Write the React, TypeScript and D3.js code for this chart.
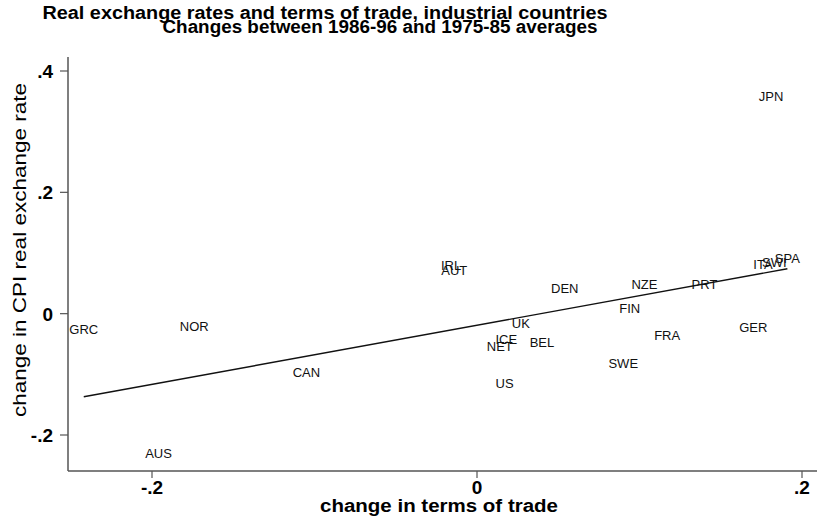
import React from 'react';
import {scaleLinear, line} from 'd3';

// country codes and their (terms of trade change, real exchange rate change)
const countries = ['JPN', 'IRL', 'AUT', 'DEN', 'NZE', 'PRT', 'FIN', 'UK', 'NET', 'ICE', 'BEL',
  'FRA', 'GER', 'SWE', 'US', 'ITA', 'SWI', 'SPA', 'GRC', 'NOR', 'CAN', 'AUS'];
const totChange = [0.181, -0.016, -0.014, 0.054, 0.103, 0.140, 0.094, 0.027, 0.014, 0.018, 0.040,
  0.117, 0.170, 0.090, 0.017, 0.176, 0.183, 0.191, -0.242, -0.174, -0.105, -0.196];
const rerChange = [0.359, 0.079, 0.071, 0.041, 0.049, 0.049, 0.008, -0.016, -0.054, -0.043, -0.048,
  -0.036, -0.023, -0.082, -0.114, 0.082, 0.084, 0.091, -0.025, -0.021, -0.097, -0.231];

// fitted regression line
const fitX = [-0.242, 0.191];
const fitY = [-0.137, 0.074];

const xTicks = [-0.2, 0, 0.2];
const xTickLabels = ['-.2', '0', '.2'];
const yTicks = [-0.2, 0, 0.2, 0.4];
const yTickLabels = ['-.2', '0', '.2', '.4'];

const width = 817;
const height = 517;
const axisLeft = 68;
const axisBottom = 471;

const font = '"Liberation Sans", Arial, Helvetica, sans-serif';

export default function App() {
  const xScale = scaleLinear().domain([-0.2, 0.2]).range([152, 802]);
  const yScale = scaleLinear().domain([-0.2, 0.4]).range([435, 71]);

  const fitPath = line<number>()
    .x((d, i) => xScale(fitX[i]))
    .y((d) => yScale(d))(fitY);

  return (
    <div style={{position: 'fixed', left: 0, top: 0}}>
      <svg width={width} height={height} style={{display: 'block', background: 'white'}} fontFamily={font}>
        <text x={325} y={19} textAnchor="middle" fontSize={18} fontWeight="bold"
          textLength={565} lengthAdjust="spacingAndGlyphs">
          Real exchange rates and terms of trade, industrial countries
        </text>
        <text x={380} y={33} textAnchor="middle" fontSize={18} fontWeight="bold"
          textLength={435} lengthAdjust="spacingAndGlyphs">
          Changes between 1986-96 and 1975-85 averages
        </text>

        {/* axes */}
        <line x1={axisLeft} y1={57} x2={axisLeft} y2={axisBottom} stroke="#555" strokeWidth={1.5} />
        <line x1={axisLeft} y1={axisBottom} x2={817} y2={axisBottom} stroke="#555" strokeWidth={1.5} />

        {yTicks.map((t, i) => (
          <g key={t} transform={`translate(0, ${yScale(t)})`}>
            <line x1={60} x2={axisLeft} y1={0} y2={0} stroke="#555" strokeWidth={1.2} />
            <text x={53} dy="0.36em" textAnchor="end" fontSize={19} fontWeight="bold">{yTickLabels[i]}</text>
          </g>
        ))}
        {xTicks.map((t, i) => (
          <g key={t} transform={`translate(${xScale(t)}, 0)`}>
            <line x1={0} x2={0} y1={axisBottom} y2={axisBottom + 7} stroke="#555" strokeWidth={1.2} />
            <text y={494} textAnchor="middle" fontSize={19} fontWeight="bold">{xTickLabels[i]}</text>
          </g>
        ))}

        <text x={439} y={512} textAnchor="middle" fontSize={18} fontWeight="bold"
          textLength={238} lengthAdjust="spacingAndGlyphs">change in terms of trade</text>
        <text transform="translate(26, 250) rotate(-90)" textAnchor="middle" fontSize={19}
          textLength={334} lengthAdjust="spacingAndGlyphs">change in CPI real exchange rate</text>

        <path d={fitPath ?? ''} fill="none" stroke="#111" strokeWidth={1.4} />

        {countries.map((c, i) => (
          <text key={c} x={xScale(totChange[i])} y={yScale(rerChange[i])} dy="0.36em"
            textAnchor="middle" fontSize={13} fill="#111">{c}</text>
        ))}
      </svg>
    </div>
  );
}
